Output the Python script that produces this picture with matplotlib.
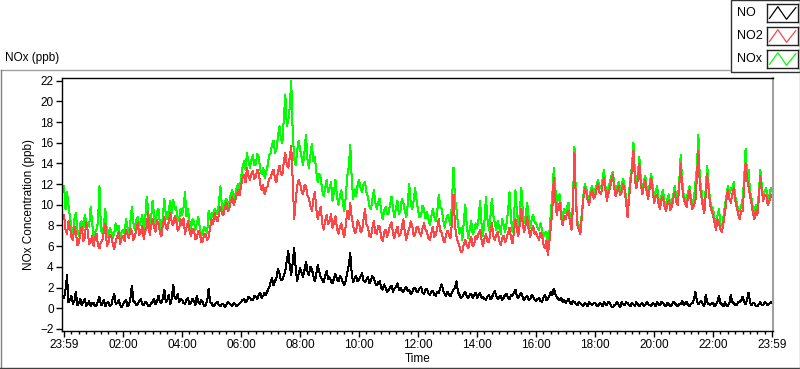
import numpy as np
import matplotlib
matplotlib.use("Agg")
import matplotlib.pyplot as plt
from matplotlib.ticker import FixedLocator, MultipleLocator
from matplotlib.patches import Rectangle
from matplotlib.lines import Line2D

plt.rcParams['font.family'] = ['Liberation Sans', 'DejaVu Sans']
plt.rcParams['font.size'] = 8.5

# samples every 3 minutes, starting at 23:59 (one row = one hour)
no = [
    1.0, 1.8, 3.2, 0.6, 0.8, 1.2, 0.4, 0.7, 1.6, 0.3, 0.5, 0.9, 0.3, 0.6, 0.9, 0.2, 0.4, 0.7, 0.2, 0.5,
    0.5, 0.2, 0.3, 0.7, 1.1, 0.3, 0.4, 0.8, 0.2, 0.5, 0.6, 0.2, 0.3, 0.9, 1.4, 0.4, 0.5, 0.8, 0.3, 0.1,
    0.4, 0.6, 0.8, 0.2, 0.3, 1.0, 2.2, 0.7, 0.6, 0.3, 0.4, 0.7, 0.9, 0.4, 0.3, 0.6, 0.5, 0.2, 0.2, 0.5,
    0.6, 0.9, 0.4, 0.7, 1.2, 0.6, 0.5, 1.0, 1.8, 0.6, 0.8, 1.3, 0.4, 0.9, 2.3, 1.0, 0.9, 1.4, 0.6, 0.9,
    0.8, 0.5, 0.4, 0.8, 1.0, 0.4, 0.5, 0.9, 0.7, 0.3, 1.2, 0.6, 0.4, 0.8, 0.6, 0.2, 0.3, 0.7, 1.9, 0.6,
    0.5, 0.2, 0.3, 0.5, 0.6, 0.3, 0.2, 0.4, 0.4, 0.1, 0.3, 0.6, 0.5, 0.3, 0.2, 0.5, 0.4, 0.2, 0.3, 0.5,
    0.6, 0.8, 0.9, 0.6, 0.7, 1.1, 1.0, 0.8, 0.8, 1.2, 1.1, 0.9, 1.3, 1.5, 1.0, 1.2, 1.5, 1.3, 1.7, 2.0,
    2.5, 2.9, 2.2, 2.6, 3.0, 3.8, 3.4, 2.7, 2.8, 3.2, 3.6, 4.6, 5.5, 4.1, 3.2, 4.4, 5.8, 3.9, 2.6, 3.3,
    3.9, 3.4, 3.0, 3.7, 4.5, 3.6, 3.2, 4.0, 3.8, 3.1, 2.6, 3.3, 4.2, 3.5, 3.0, 2.7, 2.5, 3.1, 3.6, 2.8,
    3.0, 2.6, 2.4, 2.9, 3.3, 2.8, 2.6, 3.1, 2.9, 2.5, 2.2, 2.7, 3.4, 4.2, 5.3, 3.4, 2.5, 2.9, 3.1, 2.6,
    2.8, 3.1, 3.4, 2.7, 2.5, 2.8, 3.0, 2.4, 2.7, 3.1, 2.9, 2.4, 2.2, 2.5, 2.6, 2.0, 1.8, 2.3, 2.0, 1.6,
    1.7, 2.0, 2.2, 1.6, 1.9, 2.1, 2.4, 1.8, 2.0, 1.7, 1.6, 1.9, 2.1, 1.7, 1.8, 1.4, 1.5, 1.9, 2.0, 1.6,
    1.6, 1.9, 2.1, 1.5, 1.4, 1.8, 1.9, 1.4, 1.3, 1.6, 1.7, 1.3, 1.2, 1.6, 1.5, 1.9, 2.3, 1.7, 1.4, 1.2,
    1.6, 1.3, 1.2, 1.5, 1.8, 2.0, 2.6, 1.6, 1.3, 1.0, 1.1, 1.4, 1.6, 1.2, 1.0, 1.3, 1.4, 1.0, 1.2, 1.5,
    1.0, 1.3, 1.5, 1.0, 1.1, 0.9, 0.8, 1.1, 1.3, 0.9, 1.0, 1.4, 1.7, 1.2, 0.9, 1.1, 1.2, 0.8, 1.0, 1.3,
    1.4, 1.0, 0.9, 1.3, 1.2, 1.5, 1.8, 1.1, 1.0, 1.3, 1.5, 1.0, 0.8, 1.1, 1.2, 0.8, 0.9, 1.3, 1.1, 0.8,
    0.7, 0.9, 1.0, 0.7, 0.6, 1.0, 1.3, 0.8, 0.9, 1.2, 1.6, 1.3, 1.9, 1.4, 1.1, 0.9, 0.8, 1.0, 0.6, 0.8,
    0.5, 0.7, 0.9, 0.5, 0.4, 0.7, 0.6, 0.4, 0.3, 0.6, 0.5, 0.3, 0.2, 0.5, 0.4, 0.2, 0.6, 0.4, 0.3, 0.5,
    0.5, 0.3, 0.2, 0.5, 0.4, 0.2, 0.6, 0.4, 0.3, 0.6, 0.5, 0.2, 0.1, 0.3, 0.4, 0.6, 0.3, 0.1, 0.6, 0.4,
    0.3, 0.6, 0.5, 0.3, 0.2, 0.5, 0.4, 0.2, 0.6, 0.4, 0.2, 0.4, 0.5, 0.2, 0.3, 0.6, 0.4, 0.3, 0.2, 0.5,
    0.4, 0.2, 0.6, 0.4, 0.3, 0.6, 0.5, 0.3, 0.2, 0.5, 0.4, 0.2, 0.3, 0.6, 0.5, 0.3, 0.2, 0.4, 0.4, 0.7,
    0.3, 0.5, 0.6, 0.3, 0.2, 0.4, 0.5, 0.9, 1.6, 0.7, 0.4, 0.6, 0.7, 0.4, 0.2, 1.3, 0.6, 0.4, 0.3, 0.5,
    0.5, 0.2, 0.3, 0.7, 1.2, 0.5, 0.4, 0.2, 0.6, 0.3, 0.2, 0.5, 1.3, 0.6, 0.5, 0.3, 0.3, 0.6, 0.6, 0.8,
    1.1, 0.6, 0.4, 0.8, 1.5, 0.6, 0.3, 0.5, 0.5, 0.2, 0.2, 0.4, 0.6, 0.3, 0.3, 0.6, 0.5, 0.3, 0.4, 0.6,
    0.5]

no2 = [
    9.0, 7.6, 7.2, 8.4, 7.8, 6.9, 6.6, 7.9, 7.4, 6.1, 6.3, 7.2, 7.9, 6.5, 6.8, 8.3, 7.5, 6.2, 6.4, 7.0,
    6.0, 6.8, 7.2, 6.1, 5.8, 6.4, 6.6, 7.5, 8.2, 6.0, 6.3, 7.1, 7.0, 6.2, 5.7, 6.5, 6.9, 7.4, 6.2, 6.8,
    7.0, 6.5, 7.6, 7.1, 6.8, 7.7, 7.4, 6.6, 6.9, 7.6, 8.2, 7.1, 7.3, 8.0, 6.7, 7.5, 7.8, 9.3, 7.1, 7.9,
    8.6, 7.8, 7.4, 8.5, 8.2, 7.3, 7.0, 8.1, 8.8, 7.9, 7.6, 8.4, 9.2, 8.3, 8.0, 8.9, 8.5, 7.5, 7.7, 8.6,
    8.0, 8.7, 7.2, 7.8, 8.4, 7.5, 7.0, 7.7, 7.6, 6.7, 6.8, 7.5, 7.3, 6.4, 6.5, 7.2, 7.1, 6.6, 6.9, 7.8,
    8.6, 8.1, 9.2, 8.7, 8.4, 9.1, 9.8, 9.2, 9.0, 9.7, 10.2, 9.4, 9.6, 10.3, 10.8, 10.0, 10.4, 11.0, 11.4, 10.9,
    11.8, 12.6, 12.9, 12.2, 13.6, 12.8, 12.4, 13.0, 13.3, 12.5, 12.7, 13.4, 13.1, 12.0, 11.4, 11.9, 11.0, 11.6, 11.8, 12.5,
    12.6, 13.1, 13.4, 12.5, 12.2, 13.2, 13.8, 13.0, 12.9, 14.2, 15.0, 13.9, 13.6, 14.6, 15.7, 12.4, 8.6, 10.4, 11.8, 12.4,
    12.0, 11.4, 11.0, 11.9, 11.8, 10.9, 10.6, 9.9, 9.4, 10.5, 11.2, 9.6, 8.6, 9.3, 9.8, 8.2, 7.6, 8.5, 9.0, 8.1,
    8.4, 9.1, 7.8, 8.3, 8.9, 7.7, 7.2, 7.9, 8.2, 7.4, 6.9, 8.0, 9.4, 8.6, 10.2, 8.8, 8.0, 7.3, 7.4, 8.5,
    8.2, 7.4, 7.5, 8.6, 9.6, 8.1, 7.8, 7.0, 6.9, 7.7, 8.4, 7.3, 7.2, 8.0, 7.9, 6.8, 6.5, 7.3, 7.6, 6.9,
    7.4, 8.0, 8.3, 7.2, 6.8, 7.5, 7.9, 7.0, 7.2, 7.8, 8.6, 7.4, 6.6, 7.3, 7.7, 8.4, 8.0, 7.0, 7.1, 7.9,
    7.8, 7.3, 7.0, 7.7, 8.2, 7.6, 7.4, 6.8, 6.6, 7.3, 7.9, 6.9, 7.1, 7.8, 8.6, 7.5, 7.3, 6.6, 6.4, 7.1,
    7.5, 7.0, 6.8, 8.4, 11.0, 8.0, 7.0, 6.4, 6.0, 5.4, 5.5, 6.2, 6.6, 6.1, 5.8, 6.5, 6.9, 6.0, 6.2, 7.0,
    6.7, 7.2, 7.6, 6.6, 6.0, 6.7, 7.2, 6.5, 6.4, 7.3, 8.2, 7.0, 6.6, 7.1, 7.4, 6.5, 6.1, 6.8, 7.0, 6.4,
    6.8, 7.3, 7.8, 6.8, 6.3, 7.4, 8.6, 7.6, 7.0, 8.2, 9.6, 8.0, 7.4, 8.1, 8.8, 7.5, 6.9, 7.6, 8.0, 7.2,
    7.4, 6.9, 6.6, 7.3, 7.0, 6.2, 5.8, 6.5, 5.1, 6.4, 7.8, 9.6, 12.6, 10.4, 9.0, 9.8, 10.2, 8.8, 8.0, 8.9,
    8.6, 9.2, 9.4, 8.3, 7.6, 9.8, 15.0, 10.2, 8.0, 7.6, 7.2, 8.8, 10.6, 11.6, 11.2, 10.4, 10.0, 11.0, 11.4, 10.6,
    10.8, 11.5, 12.0, 11.2, 11.0, 11.9, 12.6, 11.4, 10.4, 11.1, 11.6, 12.3, 12.9, 11.6, 10.8, 11.4, 11.8, 10.9, 11.2, 12.0,
    11.4, 10.2, 8.8, 10.6, 12.2, 13.4, 15.2, 12.4, 11.6, 12.5, 14.0, 12.0, 11.0, 11.8, 12.4, 11.2, 10.6, 11.6, 12.6, 11.5,
    10.2, 10.8, 11.0, 10.1, 9.6, 10.5, 10.8, 9.9, 9.4, 10.1, 10.4, 9.5, 9.8, 10.6, 11.2, 10.3, 10.0, 11.6, 14.0, 11.8,
    10.6, 10.1, 9.8, 10.7, 11.4, 10.2, 9.6, 10.0, 10.4, 12.6, 15.2, 11.9, 10.8, 9.8, 9.2, 11.0, 13.0, 11.4, 10.0, 9.4,
    9.0, 8.2, 7.6, 8.6, 8.2, 7.6, 7.4, 8.3, 9.2, 10.4, 11.4, 10.6, 10.2, 11.0, 11.6, 10.4, 9.8, 9.1, 8.6, 9.4,
    9.4, 11.6, 14.0, 12.4, 11.8, 10.9, 10.2, 9.2, 8.6, 9.5, 9.0, 10.6, 12.8, 11.4, 10.4, 10.9, 11.0, 10.0, 10.2, 11.0,
    10.8]

nox = [
    11.8, 9.6, 11.2, 9.9, 8.8, 7.8, 7.2, 8.6, 9.2, 7.5, 7.0, 8.2, 8.4, 7.6, 9.0, 8.3, 8.1, 7.9, 9.8, 8.4,
    6.6, 7.3, 7.6, 8.4, 11.8, 7.6, 7.2, 8.0, 9.6, 7.4, 6.9, 7.8, 7.4, 6.8, 7.2, 8.2, 7.6, 8.0, 6.6, 7.4,
    7.6, 7.2, 8.6, 7.8, 7.2, 8.4, 9.8, 8.2, 7.6, 8.5, 8.8, 7.9, 8.4, 9.0, 7.2, 8.6, 10.8, 9.6, 7.5, 8.7,
    10.4, 9.0, 8.0, 9.4, 9.6, 8.2, 7.6, 8.9, 10.6, 9.0, 8.6, 9.5, 10.4, 9.2, 10.5, 9.6, 9.8, 8.4, 8.6, 9.6,
    9.0, 9.8, 11.2, 8.9, 9.6, 8.4, 7.6, 8.6, 8.4, 7.6, 8.2, 8.8, 7.8, 7.0, 7.2, 7.9, 7.5, 7.3, 9.4, 8.6,
    9.2, 8.8, 9.6, 9.4, 9.1, 10.2, 11.8, 9.9, 9.5, 10.3, 10.6, 9.9, 10.2, 11.0, 11.4, 10.6, 10.9, 11.6, 12.0, 11.5,
    12.6, 13.6, 14.2, 13.4, 15.0, 14.2, 13.6, 14.3, 14.8, 13.8, 14.0, 14.9, 14.6, 13.4, 13.0, 13.6, 12.6, 13.2, 13.8, 14.8,
    15.0, 15.8, 16.2, 15.0, 15.4, 16.6, 17.6, 16.4, 16.0, 18.4, 20.6, 17.6, 18.2, 19.4, 22.0, 17.0, 14.4, 13.8, 15.2, 16.2,
    15.4, 14.6, 13.8, 15.2, 16.8, 14.4, 13.6, 14.8, 15.9, 14.2, 14.6, 13.2, 12.2, 13.0, 12.6, 11.4, 10.8, 11.6, 12.4, 11.2,
    11.6, 12.2, 10.4, 11.3, 12.4, 10.8, 10.0, 10.9, 11.4, 10.2, 9.4, 10.8, 12.8, 13.6, 15.8, 12.6, 10.6, 11.5, 10.8, 11.9,
    12.4, 11.6, 11.2, 12.0, 12.2, 11.2, 10.8, 9.9, 9.6, 10.5, 11.4, 10.2, 9.6, 10.3, 10.6, 9.4, 8.6, 9.4, 9.8, 9.1,
    9.2, 10.0, 10.8, 9.6, 8.8, 9.7, 10.4, 9.1, 9.4, 10.6, 10.2, 9.4, 8.8, 10.1, 12.0, 10.2, 9.6, 10.4, 11.6, 10.4,
    9.4, 8.8, 9.0, 9.9, 9.6, 8.7, 9.3, 8.6, 8.0, 8.9, 9.6, 8.8, 8.4, 9.4, 11.0, 9.8, 9.6, 8.6, 7.8, 8.6,
    9.0, 8.6, 8.0, 10.4, 13.6, 10.6, 9.6, 8.2, 7.2, 7.8, 6.6, 8.4, 10.0, 8.0, 6.8, 7.6, 8.4, 7.2, 7.4, 8.2,
    7.8, 8.6, 10.4, 8.2, 7.0, 8.4, 10.8, 8.6, 7.6, 8.8, 10.6, 9.0, 8.2, 7.6, 8.4, 7.8, 7.2, 8.6, 8.0, 7.4,
    8.2, 9.4, 11.2, 8.6, 7.4, 8.8, 11.4, 9.2, 8.0, 9.3, 11.6, 9.4, 8.2, 9.0, 10.2, 8.8, 7.8, 8.6, 9.0, 8.3,
    8.2, 7.8, 7.6, 8.2, 7.6, 6.9, 7.2, 7.4, 6.0, 7.4, 9.2, 11.0, 13.6, 11.6, 10.0, 10.8, 11.0, 9.6, 8.6, 9.6,
    9.2, 9.8, 10.2, 8.8, 8.0, 10.4, 15.6, 10.8, 8.4, 8.0, 7.8, 9.2, 10.8, 12.0, 11.6, 10.8, 10.6, 11.4, 11.8, 11.0,
    11.4, 11.9, 12.4, 11.6, 11.6, 12.4, 13.4, 11.8, 10.8, 11.6, 12.2, 12.8, 13.2, 12.0, 11.4, 11.8, 12.2, 11.3, 11.9, 12.5,
    11.8, 10.6, 9.4, 11.2, 12.6, 13.8, 16.0, 13.0, 12.4, 13.0, 14.6, 12.4, 11.6, 12.2, 12.8, 11.6, 11.2, 12.0, 13.0, 11.9,
    10.8, 11.2, 11.8, 10.6, 10.0, 10.9, 11.4, 10.3, 9.8, 10.6, 11.0, 9.9, 10.2, 11.0, 11.8, 10.8, 10.4, 12.2, 14.8, 12.4,
    11.0, 10.5, 10.6, 11.2, 11.8, 10.6, 10.2, 10.6, 12.2, 13.6, 16.8, 12.4, 11.6, 10.2, 9.6, 11.6, 13.8, 11.8, 10.4, 9.8,
    9.6, 8.6, 8.0, 9.0, 9.6, 8.0, 7.9, 8.8, 10.0, 10.8, 11.8, 11.0, 11.6, 11.4, 12.2, 10.8, 10.2, 9.6, 9.4, 9.9,
    10.6, 12.4, 15.4, 13.0, 13.4, 11.4, 10.6, 9.6, 9.2, 10.0, 9.4, 11.2, 13.4, 11.8, 10.8, 11.4, 11.6, 10.4, 10.8, 11.6,
    11.4]

names = ["NO", "NO2", "NOx"]
colors = ["#000000", "#ff4646", "#00ff00"]
time_labels = ["23:59", "02:00", "04:00", "06:00", "08:00", "10:00", "12:00",
               "14:00", "16:00", "18:00", "20:00", "22:00", "23:59"]
per_hour = 20  # samples per hour

W, H = 800, 369
fig = plt.figure(figsize=(W / 100, H / 100), dpi=100)


def fx(px):
    return px / W


def fy(py):
    return 1 - py / H


ax = fig.add_axes([fx(62), fy(331), fx(773 - 62), (331 - 78) / H])

# green first, red on top of it, black last
for vals, c in [(nox, colors[2]), (no2, colors[1]), (no, colors[0])]:
    t = np.arange(len(vals)) / per_hour
    ax.plot(t, vals, color=c, lw=0.72, antialiased=False)

ax.set_xlim(-0.07, 24.03)
ax.set_ylim(-2.2, 22.26)
ax.set_yticks(np.arange(-2, 23, 2))
ax.xaxis.set_major_locator(FixedLocator(np.arange(0, 25, 2)))
ax.set_xticklabels(time_labels)
ax.xaxis.set_minor_locator(MultipleLocator(0.25))
ax.tick_params(axis='both', direction='out', length=4, width=1, pad=2, colors='black')
ax.tick_params(axis='x', which='minor', length=2.5, width=1)
ax.set_ylabel("NOx Concentration (ppb)", labelpad=4)
ax.set_xlabel("Time", labelpad=1)

for s in ['left', 'top', 'bottom']:
    ax.spines[s].set_color('black')
    ax.spines[s].set_linewidth(1)
ax.spines['right'].set_color('#a0a0a0')
ax.spines['right'].set_linewidth(1.5)

# outer panel frame
fig.add_artist(Line2D([fx(0.5), fx(730)], [fy(69.5), fy(69.5)], color='#a0a0a0', lw=1))
fig.add_artist(Line2D([fx(0.5), fx(0.5)], [fy(69.5), fy(368)], color='#808080', lw=1))
fig.add_artist(Line2D([fx(0), fx(800)], [fy(367.5), fy(367.5)], color='#404040', lw=1))
fig.add_artist(Line2D([fx(799.5), fx(799.5)], [fy(72), fy(368)], color='#a0a0a0', lw=1))

fig.text(fx(5), fy(58), "NOx (ppb)", ha='left', va='center')

# legend panel
fig.add_artist(Rectangle((fx(730.5), fy(72)), fx(69), 72 / H, transform=fig.transFigure,
                         facecolor='white', edgecolor='#303030', lw=1, zorder=0.5))
row_y = [13, 36, 59]
for name, c, ry in zip(names, colors, row_y):
    fig.text(fx(737), fy(ry), name, ha='left', va='center', fontsize=9)
    sw = fig.add_axes([fx(767), fy(ry + 9), fx(31), 18 / H])
    sw.set_zorder(3)
    sw.plot([0.08, 0.35, 0.63, 0.93], [0.2, 0.85, 0.15, 0.8], color=c, lw=0.9)
    sw.set_xlim(0, 1)
    sw.set_ylim(0, 1)
    sw.set_xticks([])
    sw.set_yticks([])
    for s in sw.spines.values():
        s.set_color('#202020')
        s.set_linewidth(1)

fig.savefig("out.png", dpi=100)
